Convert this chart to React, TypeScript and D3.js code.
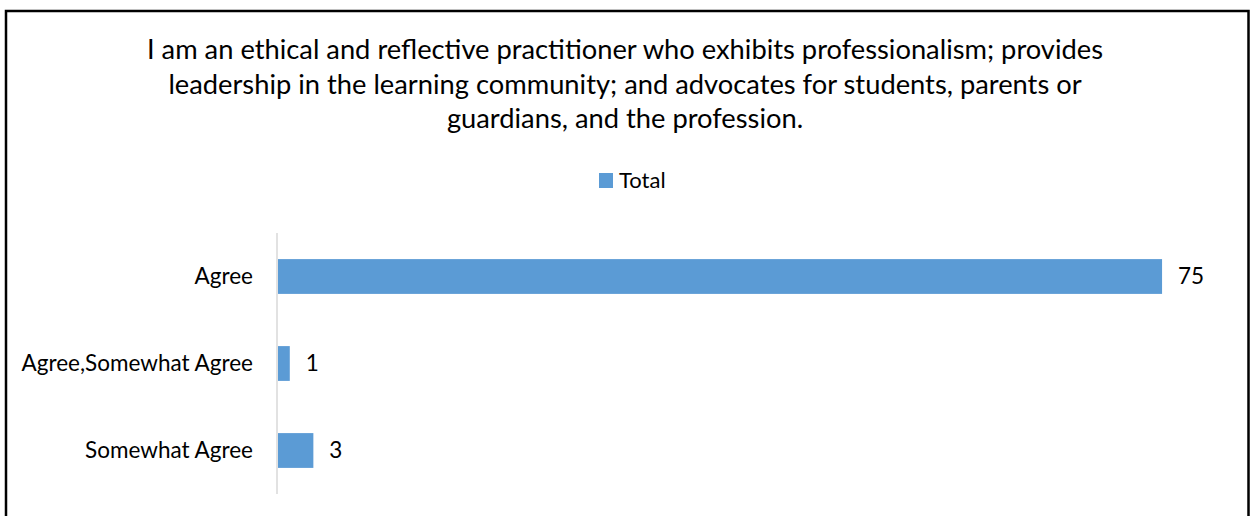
import React from "react";
import * as d3 from "d3";

const categories: string[] = ["Agree", "Agree,Somewhat Agree", "Somewhat Agree"];
const totals: number[] = [75, 1, 3];
const seriesName = "Total";
const titleLines: string[] = [
  "I am an ethical and reflective practitioner who exhibits professionalism; provides",
  "leadership in the learning community; and advocates for students, parents or",
  "guardians, and the profession.",
];

const W = 1250;
const H = 516;
const FONT = "Lato, 'Open Sans', sans-serif";
const BAR = "#5b9bd5";

export default function App() {
  const x = d3.scaleLinear().domain([0, 80]).range([278, 1221]);
  const y = d3
    .scaleBand<string>()
    .domain(categories)
    .range([233, 494])
    .paddingInner(0.6)
    .paddingOuter(0.3);

  return (
    <svg
      width={W}
      height={H}
      style={{ position: "absolute", left: 0, top: 0, background: "#fff" }}
      fontFamily={FONT}
    >
      <rect x={0} y={0} width={W} height={H} fill="#fff" />
      <rect x={6} y={11} width={1242.5} height={520} fill="none" stroke="#000" strokeWidth={2.5} />
      {titleLines.map((t, i) => (
        <text key={i} x={625} y={59 + i * 34.7} textAnchor="middle" fontSize={27.3} fill="#000">
          {t}
        </text>
      ))}
      <rect x={599} y={173} width={14} height={15} fill={BAR} />
      <text x={619} y={188} fontSize={22} fill="#000">
        {seriesName}
      </text>
      <line x1={277} x2={277} y1={233} y2={494} stroke="#d9d9d9" strokeWidth={1.5} />
      {categories.map((c, i) => {
        const yy = y(c)!;
        const bw = y.bandwidth();
        return (
          <g key={c}>
            <rect x={x(0)} y={yy} width={x(totals[i]) - x(0)} height={bw} fill={BAR} />
            <text x={253} y={yy + bw / 2} dy="0.35em" textAnchor="end" fontSize={22.5} fill="#000">
              {c}
            </text>
            <text x={x(totals[i]) + 16} y={yy + bw / 2} dy="0.35em" fontSize={22.5} fill="#000">
              {totals[i]}
            </text>
          </g>
        );
      })}
    </svg>
  );
}
